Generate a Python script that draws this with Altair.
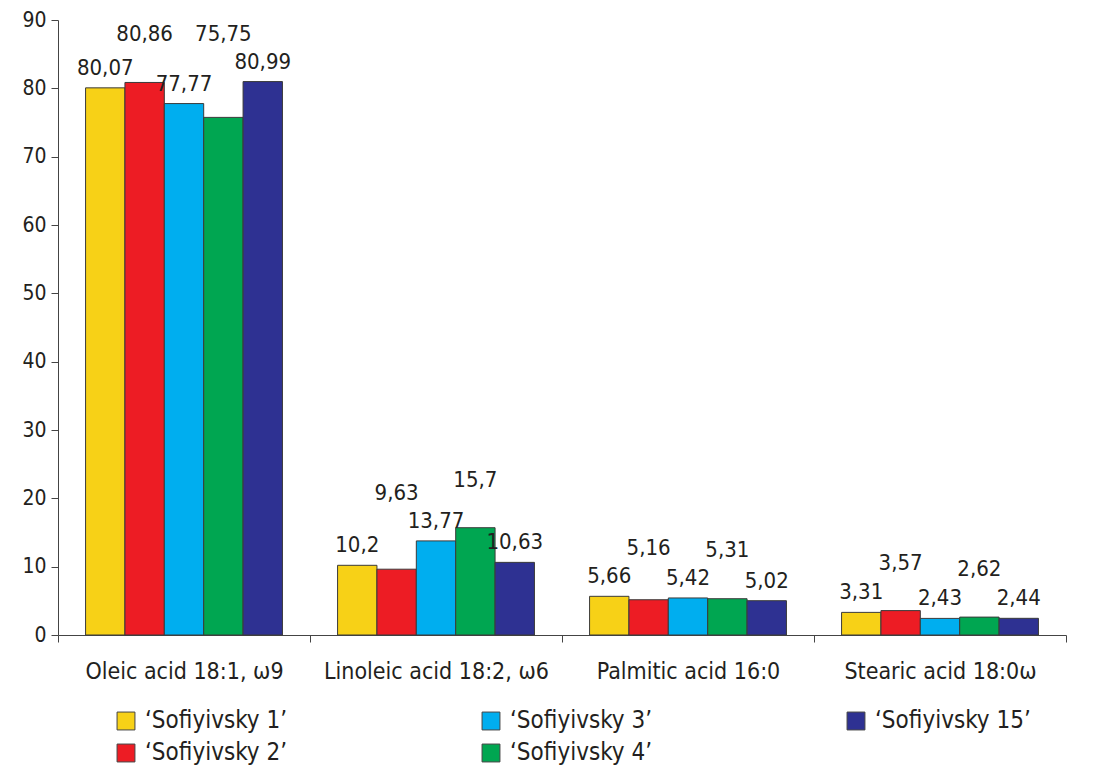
import altair as alt
import pandas as pd

acids = ["Oleic acid 18:1, \u03c99", "Linoleic acid 18:2, \u03c96", "Palmitic acid 16:0", "Stearic acid 18:0\u03c9"]
varieties = ["\u2018Sofiyivsky 1\u2019", "\u2018Sofiyivsky 2\u2019", "\u2018Sofiyivsky 3\u2019", "\u2018Sofiyivsky 4\u2019", "\u2018Sofiyivsky 15\u2019"]
colors = ["#F7D117", "#ED1C24", "#00AEEF", "#00A651", "#2E3192"]
s1 = [80.07, 10.2, 5.66, 3.31]
s2 = [80.86, 9.63, 5.16, 3.57]
s3 = [77.77, 13.77, 5.42, 2.43]
s4 = [75.75, 15.7, 5.31, 2.62]
s15 = [80.99, 10.63, 5.02, 2.44]
series = [s1, s2, s3, s4, s15]

# Labels alternate between two tiers (as in the reference) so that neighbours never collide:
# every second label is lifted above the tallest of its own and its neighbouring bars.
rows = []
n = len(varieties)
for j, a in enumerate(acids):
    group = [s[j] for s in series]
    for i, v in enumerate(varieties):
        val = group[i]
        if i % 2 == 0:
            tier, anchor = "low", val
        else:
            tier, anchor = "high", max(group[max(i - 1, 0):min(i + 2, n)])
        rows.append({"acid": a, "variety": v, "value": val, "anchor": anchor,
                     "label": str(val).replace(".", ","), "tier": tier})
df = pd.DataFrame(rows)

FONT = "Liberation Sans Narrow, DejaVu Sans Condensed, sans-serif"
INK = "#231F20"

x = alt.X("acid:N", sort=acids, title=None,
          scale=alt.Scale(paddingInner=0, paddingOuter=0),
          axis=alt.Axis(labelAngle=0, tickBand="extent", tickSize=7, labelPadding=18,
                        labelFontSize=23, labelFont=FONT, labelColor=INK, labelLimit=400,
                        domainColor="#444", tickColor="#444"))
xo = alt.XOffset("variety:N", sort=varieties, scale=alt.Scale(paddingInner=0, paddingOuter=0.7))
y = alt.Y("value:Q", title=None,
          scale=alt.Scale(domain=[0, 90], nice=False),
          axis=alt.Axis(values=list(range(0, 91, 10)), grid=False, tickSize=7, labelPadding=5,
                        labelFontSize=21, labelFont=FONT, labelColor=INK,
                        domainColor="#444", tickColor="#444"))

bars = alt.Chart(df).mark_bar(stroke="#3a3a3a", strokeWidth=1).encode(
    x=x, xOffset=xo, y=y,
    color=alt.Color("variety:N", sort=varieties,
                    scale=alt.Scale(domain=varieties, range=colors),
                    legend=alt.Legend(title=None, orient="none", legendX=56, legendY=689,
                                      columns=3, columnPadding=178, rowPadding=8,
                                      gridAlign="all",
                                      symbolType="square", symbolSize=320,
                                      symbolStrokeColor="#444", symbolStrokeWidth=1,
                                      labelFontSize=24, labelFont=FONT, labelColor=INK,
                                      labelOffset=7, labelLimit=300)),
)

def label_layer(tier, dy):
    return alt.Chart(df).transform_filter(alt.datum.tier == tier).mark_text(
        baseline="bottom", dy=dy, fontSize=22, font=FONT, color=INK
    ).encode(
        x=alt.X("acid:N", sort=acids),
        xOffset=alt.XOffset("variety:N", sort=varieties),
        y="anchor:Q",
        text="label:N",
    )

chart = alt.layer(bars, label_layer("low", -8), label_layer("high", -36)).properties(
    width=1008, height=615,
    background="white",
    padding={"left": 13, "top": 1, "right": 5, "bottom": 5},
).configure_view(stroke=None)

chart.save("out.html", embed_options={"renderer": "svg", "actions": False})
